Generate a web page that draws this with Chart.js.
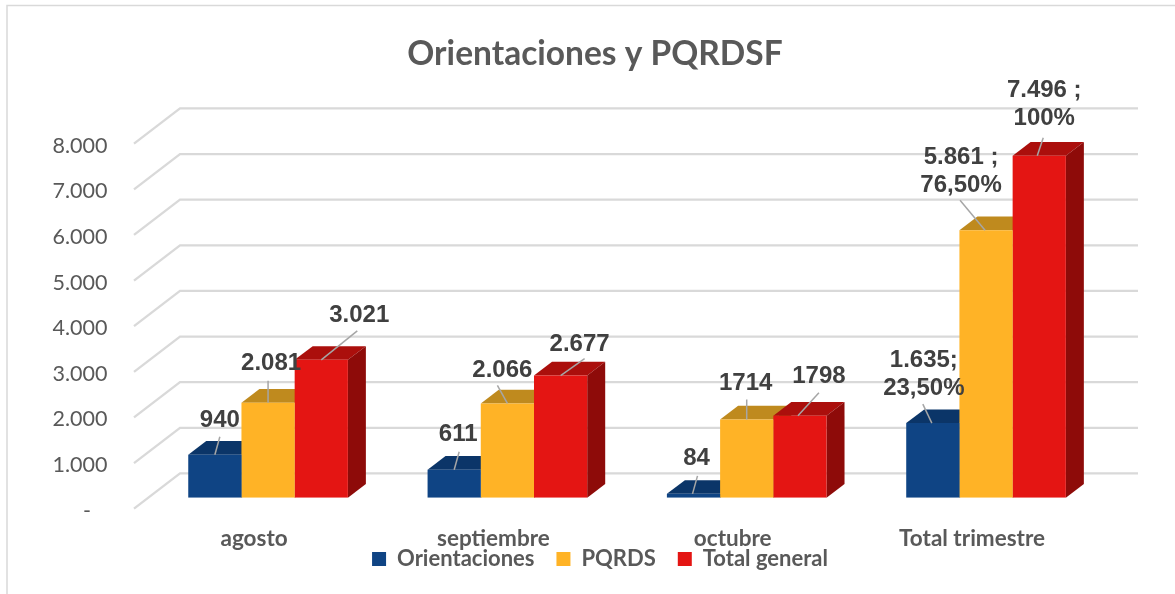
<!DOCTYPE html>
<html lang="es">
<head>
<meta charset="utf-8">
<title>Orientaciones y PQRDSF</title>
<script src="https://cdn.jsdelivr.net/npm/chart.js@4"></script>
<style>html,body{margin:0;padding:0;background:#fff}canvas{display:block}</style>
</head>
<body>
<canvas id="c" width="1175" height="594"></canvas>
<script>
const categories = ['agosto', 'septiembre', 'octubre', 'Total trimestre'];
const orientaciones = [940, 611, 84, 1635];
const pqrds = [2081, 2066, 1714, 5861];
const totalGeneral = [3021, 2677, 1798, 7496];
const tickLabels = ['-   ', '1.000', '2.000', '3.000', '4.000', '5.000', '6.000', '7.000', '8.000'];
const orientacionesText = [['940'], ['611'], ['84'], ['1.635;', '23,50%']];
const pqrdsText = [['2.081'], ['2.066'], ['1714'], ['5.861 ;', '76,50%']];
const totalText = [['3.021'], ['2.677'], ['1798'], ['7.496 ;', '100%']];

// label placement relative to the top-centre of each bar: [labelDx, labelDy, leaderStartDx, leaderEndDx, leaderEndDy]
const orientacionesPlace = [[5,-35,0,5,-18],[4,-36,0,5,-18],[3,-36,-1,4,-18],[-9,-36,-1,-10,-19]];
const pqrdsPlace = [[3,-40,0,0,-22],[-5,-34,0,-10,-18],[-1,-37,0,0,-20],[-25,-46,-1,-26,-30]];
const totalPlace = [[38,-45,0,36,-29],[19,-32,0,24,-17],[19,-40,-2,19,-23],[5,-38,-2,4,-18]];

const frontColors = ['#0f4484', '#ffb326', '#e41513'];
const topColors = ['#0b3568', '#bf8a1e', '#ab0f0c'];
const sideColors = ['#082a54', '#94690f', '#8e0b09'];
const depthX = 18, depthY = 13.7;
const wallX = 180, wallRight = 1138, wallUp = 24.3, floorX = 134, floorDown = 11;

const wall3d = {
  id: 'wall3d',
  afterLayout(chart) {
    const lg = chart.legend, tb = chart.titleBlock;
    const d = 600 - (lg.left + lg.right) / 2;
    lg.left += d; lg.right += d; lg.top -= 14; lg.bottom -= 14;
    const t = 595 - (tb.left + tb.right) / 2;
    tb.left += t; tb.right += t;
    chart.scales.x.bottom = 560;
  },
  beforeDraw(chart) {
    const c = chart.ctx;
    c.save();
    c.fillStyle = '#fff';
    c.fillRect(0, 0, chart.width, chart.height);
    c.strokeStyle = '#d9d9d9';
    c.lineWidth = 1.5;
    c.beginPath();
    c.moveTo(7, 594); c.lineTo(7, 5.5); c.lineTo(1175, 5.5);
    c.stroke();
    c.restore();
  },
  beforeDatasetsDraw(chart) {
    const c = chart.ctx, y = chart.scales.y;
    c.save();
    c.strokeStyle = '#d9d9d9';
    c.lineWidth = 2.3;
    y.ticks.forEach(t => {
      const p = y.getPixelForValue(t.value);
      c.beginPath();
      c.moveTo(floorX, p + floorDown);
      c.lineTo(wallX, p - wallUp);
      c.lineTo(wallRight, p - wallUp);
      c.stroke();
    });
    chart.data.datasets.forEach((ds, i) => {
      chart.getDatasetMeta(i).data.forEach(b => {
        const l = b.x - b.width / 2, r = b.x + b.width / 2;
        c.fillStyle = topColors[i];
        c.beginPath();
        c.moveTo(l, b.y); c.lineTo(l + depthX, b.y - depthY);
        c.lineTo(r + depthX, b.y - depthY); c.lineTo(r, b.y);
        c.closePath(); c.fill();
        c.fillStyle = sideColors[i];
        c.beginPath();
        c.moveTo(r, b.y); c.lineTo(r + depthX, b.y - depthY);
        c.lineTo(r + depthX, b.base - depthY); c.lineTo(r, b.base);
        c.closePath(); c.fill();
      });
    });
    c.restore();
  },
  afterDatasetsDraw(chart) {
    const c = chart.ctx;
    const texts = [orientacionesText, pqrdsText, totalText];
    const places = [orientacionesPlace, pqrdsPlace, totalPlace];
    c.save();
    c.font = 'bold 24px "Liberation Sans", Arial, sans-serif';
    c.textAlign = 'center';
    c.textBaseline = 'middle';
    chart.data.datasets.forEach((ds, i) => {
      chart.getDatasetMeta(i).data.forEach((b, j) => {
        const [lx, ly, sx, ex, ey] = places[i][j];
        c.strokeStyle = '#a6a6a6';
        c.lineWidth = 1.5;
        c.beginPath();
        c.moveTo(b.x + sx, b.y);
        c.lineTo(b.x + ex, b.y + ey);
        c.stroke();
        const lines = texts[i][j];
        c.fillStyle = '#404040';
        lines.forEach((s, k) => {
          c.fillText(s, b.x + lx, b.y + ly + 1 + (k - (lines.length - 1)) * 28);
        });
      });
    });
    c.restore();
  }
};

new Chart(document.getElementById('c'), {
  type: 'bar',
  plugins: [wall3d],
  data: {
    labels: categories,
    datasets: [
      { label: 'Orientaciones', data: orientaciones, backgroundColor: frontColors[0] },
      { label: 'PQRDS', data: pqrds, backgroundColor: frontColors[1] },
      { label: 'Total general', data: totalGeneral, backgroundColor: frontColors[2] }
    ]
  },
  options: {
    responsive: false,
    animation: false,
    layout: { padding: { left: 25, right: 69.3, top: 0, bottom: 0 } },
    datasets: { bar: { categoryPercentage: 0.667, barPercentage: 1 } },
    plugins: {
      tooltip: { enabled: false },
      title: {
        display: true,
        text: 'Orientaciones y PQRDSF',
        color: '#595959',
        font: { family: 'Lato', size: 33.5, weight: 'bold', lineHeight: 1.2 },
        padding: { top: 33.9, bottom: 58.6 }
      },
      legend: {
        position: 'bottom',
        labels: {
          boxWidth: 14, boxHeight: 14, padding: 22,
          color: '#595959',
          font: { family: 'Lato', size: 22, weight: 'bold', lineHeight: 1 }
        }
      }
    },
    scales: {
      x: {
        grid: { display: false },
        border: { display: false },
        afterFit(s) { s.height = 42.3; },
        ticks: {
          padding: 20, labelOffset: -14, maxRotation: 0, autoSkip: false, color: '#595959',
          font: { family: 'Lato', size: 22.5, weight: 'bold' }
        }
      },
      y: {
        min: 0, max: 8000,
        grid: { display: false, drawTicks: false },
        border: { display: false },
        afterFit(s) { s.width = 123.4; },
        ticks: {
          stepSize: 1000, padding: 41, labelOffset: 13, color: '#595959',
          font: { family: 'Lato', size: 21.5 },
          callback: v => tickLabels[v / 1000]
        }
      }
    }
  }
});
</script>
</body>
</html>
